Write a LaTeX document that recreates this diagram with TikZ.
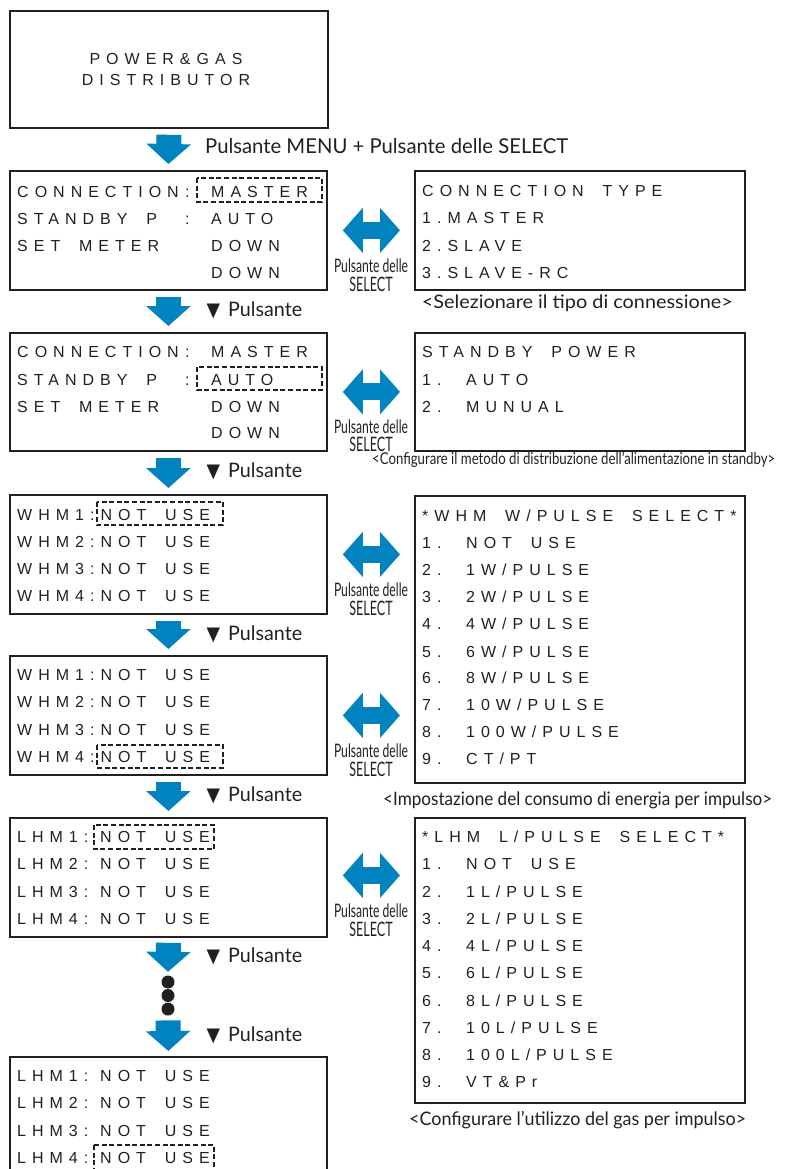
\documentclass[tikz,border=0pt]{standalone}
\usepackage{fontspec}
\usepackage{graphicx}
\usetikzlibrary{arrows.meta,calc}
\newfontfamily\lcdfam[LetterSpace=37.5, WordSpace={1.8,0,0}]{Liberation Sans}
\newfontfamily\labfam{Lato}
\newfontfamily\symfam{DejaVu Sans}
\definecolor{ink}{HTML}{231F20}
\definecolor{lgblue}{HTML}{0083BE}
\newcommand\fitlab[3]{\resizebox{#1}{\height}{\fontsize{#2}{#2}\selectfont\labfam #3}}
\newcommand\tri{\resizebox{13.5pt}{12.5pt}{\symfam ▼}}
\tikzset{
  frame/.style={draw=ink, line width=1.8pt, inner sep=0pt, anchor=north west},
  lcd/.style={anchor=base west, inner sep=0pt, text=ink, font=\fontsize{16}{16}\selectfont\lcdfam},
  hl/.style={draw=ink, line width=1.8pt, dash pattern=on 5pt off 2.6pt},
  dnarrow/.style={draw=lgblue, line width=25pt, -{Triangle[length=20pt,width=43.5pt]}},
  lrarrow/.style={draw=lgblue, line width=17pt, {Triangle[length=20pt,width=44pt]}-{Triangle[length=20pt,width=44pt]}},
  lab/.style={anchor=base west, inner sep=0pt, text=ink},
  labc/.style={anchor=base, inner sep=0pt, text=ink},
  dot/.style={circle, fill=ink, minimum size=13pt, inner sep=0pt}
}
\begin{document}
\begin{tikzpicture}[x=1pt,y=-1pt]
\useasboundingbox (0,0) rectangle (784,1169);
\clip (0,0) rectangle (784,1169);
% boxes
\node[frame, minimum width=318pt, minimum height=117pt] (b1) at (9,10) {};
\node[frame, minimum width=317pt, minimum height=119pt] (b2) at (9,170) {};
\node[frame, minimum width=317pt, minimum height=118pt] (b3) at (9,332) {};
\node[frame, minimum width=317pt, minimum height=119pt] (b4) at (9,494) {};
\node[frame, minimum width=317pt, minimum height=119pt] (b5) at (9,655) {};
\node[frame, minimum width=317pt, minimum height=119pt] (b6) at (9,817) {};
\node[frame, minimum width=317pt, minimum height=119pt] (b7) at (9,1056) {};
\node[frame, minimum width=330pt, minimum height=119pt] (r1) at (414,170) {};
\node[frame, minimum width=330pt, minimum height=118pt] (r2) at (414,332) {};
\node[frame, minimum width=330pt, minimum height=287pt] (r3) at (414,495) {};
\node[frame, minimum width=330pt, minimum height=285pt] (r4) at (414,817) {};
% top box text
\node[lcd, anchor=base] (p1) at (166,65) {POWER\&GAS};
\node[lcd, anchor=base] (p2) at (166,85.7) {DISTRIBUTOR};
% b2
\node[lcd] (b2a) at (17,197.5) {CONNECTION};
\node[lcd] (b2i) at (185,197.5) {:};
\node[lcd] (b2b) at (211,197.5) {MASTER};
\node[lcd] (b2c) at (17,224.7) {STANDBY P};
\node[lcd] (b2d) at (185,224.7) {:};
\node[lcd] (b2e) at (211,224.7) {AUTO};
\node[lcd] (b2f) at (17,251.7) {SET METER};
\node[lcd] (b2g) at (211,251.7) {DOWN};
\node[lcd] (b2h) at (211,278.7) {DOWN};
\draw[hl] (197,178) rectangle (322,202);
% b3
\node[lcd] (b3a) at (17,357.7) {CONNECTION};
\node[lcd] (b3i) at (185,357.7) {:};
\node[lcd] (b3b) at (211,357.7) {MASTER};
\node[lcd] (b3c) at (17,385.7) {STANDBY P};
\node[lcd] (b3d) at (185,385.7) {:};
\node[lcd] (b3e) at (211,385.7) {AUTO};
\node[lcd] (b3f) at (17,412.7) {SET METER};
\node[lcd] (b3g) at (211,412.7) {DOWN};
\node[lcd] (b3h) at (211,438.7) {DOWN};
\draw[hl] (197,367) rectangle (322,390);
% b4
\node[lcd] (b4a) at (17,520.7) {WHM1:NOT USE};
\node[lcd] (b4b) at (17,547.4) {WHM2:NOT USE};
\node[lcd] (b4c) at (17,574.7) {WHM3:NOT USE};
\node[lcd] (b4d) at (17,601.7) {WHM4:NOT USE};
\draw[hl] (96.7,501.7) rectangle (222.7,525);
% b5
\node[lcd] (b5a) at (17,680.7) {WHM1:NOT USE};
\node[lcd] (b5b) at (17,707.7) {WHM2:NOT USE};
\node[lcd] (b5c) at (17,735.7) {WHM3:NOT USE};
\node[lcd] (b5d) at (17,762.4) {WHM4:NOT USE};
\draw[hl] (97,745) rectangle (223,767.7);
% b6
\node[lcd] (b6a) at (17,842.7) {LHM1:};
\node[lcd] (b6b) at (100,842.7) {NOT USE};
\node[lcd] (b6c) at (17,869.7) {LHM2:};
\node[lcd] (b6d) at (100,869.7) {NOT USE};
\node[lcd] (b6e) at (17,897.7) {LHM3:};
\node[lcd] (b6f) at (100,897.7) {NOT USE};
\node[lcd] (b6g) at (17,924.7) {LHM4:};
\node[lcd] (b6h) at (100,924.7) {NOT USE};
\draw[hl] (94,825) rectangle (214,849);
% b7
\node[lcd] (b7a) at (17,1081.4) {LHM1:};
\node[lcd] (b7b) at (100,1081.4) {NOT USE};
\node[lcd] (b7c) at (17,1108.7) {LHM2:};
\node[lcd] (b7d) at (100,1108.7) {NOT USE};
\node[lcd] (b7e) at (17,1136.4) {LHM3:};
\node[lcd] (b7f) at (100,1136.4) {NOT USE};
\node[lcd] (b7g) at (17,1163.4) {LHM4:};
\node[lcd] (b7h) at (100,1163.4) {NOT USE};
\draw[hl] (94,1145) rectangle (214,1172);
% r1
\node[lcd] (r1a) at (422,196.4) {CONNECTION TYPE};
\node[lcd] (r1b) at (422,223.7) {1.MASTER};
\node[lcd] (r1c) at (422,251.7) {2.SLAVE};
\node[lcd] (r1d) at (422,278.7) {3.SLAVE-RC};
% r2
\node[lcd] (r2a) at (422,357.7) {STANDBY POWER};
\node[lcd] (r2b) at (422,385.7) {1.};
\node[lcd] (r2c) at (466,385.7) {AUTO};
\node[lcd] (r2d) at (422,412.7) {2.};
\node[lcd] (r2e) at (466,412.7) {MUNUAL};
% r3
\node[lcd] (r3h) at (422,521.7) {*WHM W/PULSE SELECT*};
\node[lcd] (r3n1) at (422,548.4) {1.};  \node[lcd] (r3v1) at (466,548.4) {NOT USE};
\node[lcd] (r3n2) at (422,575.7) {2.};  \node[lcd] (r3v2) at (466,575.7) {1W/PULSE};
\node[lcd] (r3n3) at (422,602.7) {3.};  \node[lcd] (r3v3) at (466,602.7) {2W/PULSE};
\node[lcd] (r3n4) at (422,629.7) {4.};  \node[lcd] (r3v4) at (466,629.7) {4W/PULSE};
\node[lcd] (r3n5) at (422,657.4) {5.};  \node[lcd] (r3v5) at (466,657.4) {6W/PULSE};
\node[lcd] (r3n6) at (422,683.7) {6.};  \node[lcd] (r3v6) at (466,683.7) {8W/PULSE};
\node[lcd] (r3n7) at (422,710.7) {7.};  \node[lcd] (r3v7) at (466,710.7) {10W/PULSE};
\node[lcd] (r3n8) at (422,737.7) {8.};  \node[lcd] (r3v8) at (466,737.7) {100W/PULSE};
\node[lcd] (r3n9) at (422,764.7) {9.};  \node[lcd] (r3v9) at (466,764.7) {CT/PT};
% r4
\node[lcd] (r4h) at (422,842.7) {*LHM L/PULSE SELECT*};
\node[lcd] (r4n1) at (422,869.7) {1.};  \node[lcd] (r4v1) at (466,869.7) {NOT USE};
\node[lcd] (r4n2) at (422,897.7) {2.};  \node[lcd] (r4v2) at (466,897.7) {1L/PULSE};
\node[lcd] (r4n3) at (422,924.7) {3.};  \node[lcd] (r4v3) at (466,924.7) {2L/PULSE};
\node[lcd] (r4n4) at (422,951.7) {4.};  \node[lcd] (r4v4) at (466,951.7) {4L/PULSE};
\node[lcd] (r4n5) at (422,978.7) {5.};  \node[lcd] (r4v5) at (466,978.7) {6L/PULSE};
\node[lcd] (r4n6) at (422,1006.4) {6.}; \node[lcd] (r4v6) at (466,1006.4) {8L/PULSE};
\node[lcd] (r4n7) at (422,1033.4) {7.}; \node[lcd] (r4v7) at (466,1033.4) {10L/PULSE};
\node[lcd] (r4n8) at (422,1060.7) {8.}; \node[lcd] (r4v8) at (466,1060.7) {100L/PULSE};
\node[lcd] (r4n9) at (422,1087.4) {9.}; \node[lcd] (r4v9) at (466,1087.4) {VT\&Pr};
% dots
\node[dot] (d1) at (168,982) {};
\node[dot] (d2) at (168,995.5) {};
\node[dot] (d3) at (168,1009) {};
% down arrows
\draw[dnarrow] ([yshift=-6pt]b1.south) -- ([yshift=6pt]b2.north);
\draw[dnarrow] ([yshift=-6pt]b2.south) -- ([yshift=6pt]b3.north);
\draw[dnarrow] ([yshift=-6pt]b3.south) -- ([yshift=6pt]b4.north);
\draw[dnarrow] ([yshift=-6pt]b4.south) -- ([yshift=6pt]b5.north);
\draw[dnarrow] ([yshift=-6pt]b5.south) -- ([yshift=6pt]b6.north);
\draw[dnarrow] ([yshift=-5pt]b6.south) -- ([yshift=3.5pt]d1.north);
\draw[dnarrow] ([yshift=-4.7pt]d3.south) -- ([yshift=5pt]b7.north);
% left-right arrows
\draw[lrarrow] ([xshift=15pt]b2.east) -- ([xshift=-14pt]r1.west);
\draw[lrarrow] ([xshift=15pt]b3.east) -- ([xshift=-14pt]r2.west);
\draw[lrarrow] ([xshift=15pt]b4.east) -- ([xshift=-14pt]b4.east -| r3.west);
\draw[lrarrow] ([xshift=15pt]b5.east) -- ([xshift=-14pt]b5.east -| r3.west);
\draw[lrarrow] ([xshift=15pt,yshift=2pt]b6.east) -- ([xshift=-14pt,yshift=2pt]b6.east -| r4.west);
% labels
\node[lab] (m0) at (205,154) {\fitlab{363pt}{20.5}{Pulsante MENU + Pulsante delle SELECT}};
\foreach \yy/\nm in {316.5/k1, 477.5/k2, 640.5/k3, 801.5/k4, 962.5/k5, 1041.5/k6}{
  \node[lab] (\nm t) at (206.5,\yy) {\tri};
  \node[lab] (\nm p) at (228,\yy) {\fitlab{74pt}{20}{Pulsante}};
}
\foreach \cc/\sb/\nm in {229.5/62/s1, 391/60/s2, 553.5/62/s3, 714.5/62/s4, 874.5/62/s5}{
  \node[labc] (\nm a) at (371,\cc+42.7) {\fitlab{74pt}{18.6}{Pulsante delle}};
  \node[labc] (\nm b) at (371,\cc+\sb) {\fitlab{43.4pt}{19.9}{SELECT}};
}
\node[lab] (c1) at (421.7,308.3) {\fitlab{311pt}{18.6}{<Selezionare il tipo di connessione>}};
\node[lab] (c2) at (372,464.5) {\fitlab{403pt}{16.3}{<Configurare il metodo di distribuzione dell’alimentazione in standby>}};
\node[lab] (c3) at (383,805) {\fitlab{389pt}{18.6}{<Impostazione del consumo di energia per impulso>}};
\node[lab] (c4) at (409,1125) {\fitlab{337pt}{18.6}{<Configurare l’utilizzo del gas per impulso>}};
\end{tikzpicture}
\end{document}
